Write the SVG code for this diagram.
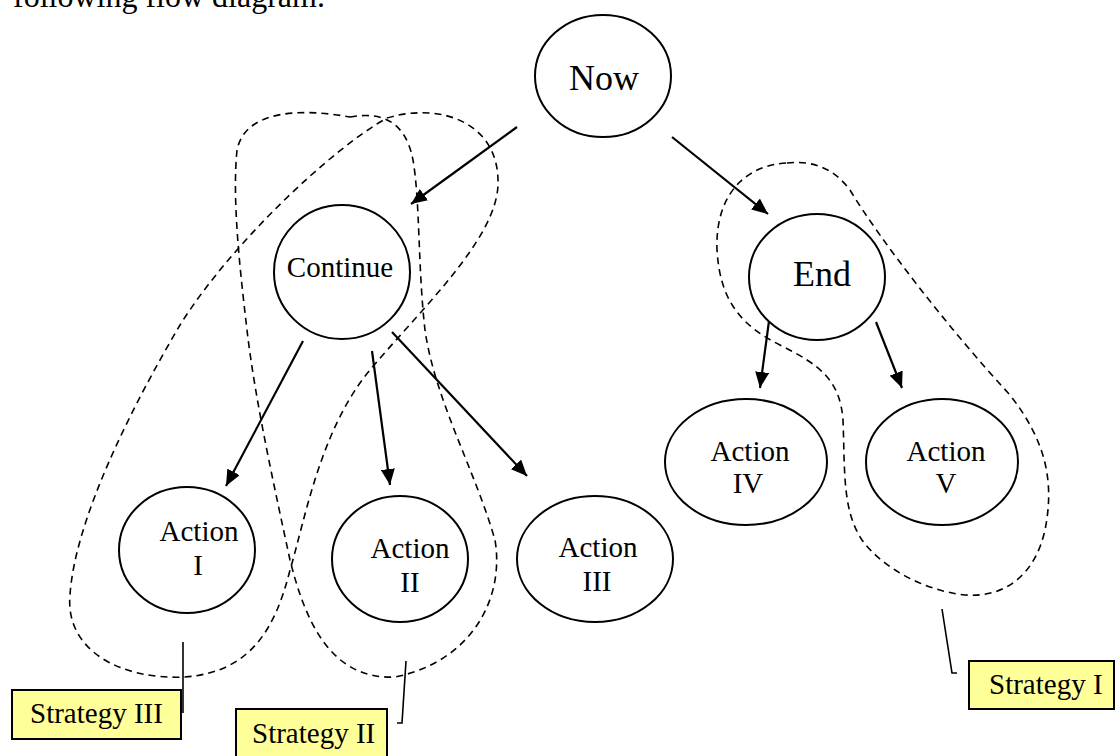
<svg xmlns="http://www.w3.org/2000/svg" width="1115" height="756" viewBox="0 0 1115 756">
<style>
text{font-family:"Liberation Serif","Times New Roman",serif;fill:#000}
.node{fill:#fff;stroke:#000;stroke-width:2}
.t{font-size:29px;text-anchor:middle}
.big{font-size:36px;text-anchor:middle}
.arrow{stroke:#000;stroke-width:2.2;fill:none;marker-end:url(#ah)}
.group{fill:none;stroke:#000;stroke-width:1.6;stroke-dasharray:7,5}
.lead{fill:none;stroke:#000;stroke-width:1.6}
.box{fill:#ffff99;stroke:#000;stroke-width:2}
.lbl{font-size:29px}
</style>
<defs>
<marker id="ah" markerUnits="userSpaceOnUse" markerWidth="16" markerHeight="14" refX="16" refY="7" orient="auto">
<path d="M0,0 L16,7 L0,14 z" fill="#000"/>
</marker>
</defs>
<rect width="1115" height="756" fill="#fff"/>
<text x="13" y="7" style="font-size:32px">following flow diagram.</text>

<g id="groups">
<path class="group" d="M387,118 C440,102 500,122 498,185 C496,240 420,310 370,370 C320,430 305,520 290,570 C275,630 250,672 185,677 C120,680 65,650 70,595 C75,520 130,410 180,325 C230,245 330,150 387,118 Z"/>
<path class="group" d="M350,117 C378,112 405,118 413,160 C420,200 418,270 425,330 C435,400 475,470 495,540 C505,600 470,662 395,677 C330,680 305,620 290,560 C275,490 255,400 247,330 C240,270 232,200 237,150 C245,110 300,108 350,117 Z"/>
<path class="group" d="M787,163 C815,160 835,170 850,190 C880,240 950,330 1010,395 C1045,440 1055,480 1045,530 C1035,575 1005,598 965,595 C920,590 880,565 862,540 C842,510 845,470 843,420 C840,380 820,365 780,345 C740,325 720,300 717,250 C715,195 745,165 787,163 Z"/>
</g>

<g id="connectors">
<line class="arrow" x1="517" y1="127" x2="411" y2="204"/>
<line class="arrow" x1="672" y1="137" x2="768" y2="214"/>
<line class="arrow" x1="303" y1="341" x2="226" y2="486"/>
<line class="arrow" x1="372" y1="351" x2="390" y2="485"/>
<line class="arrow" x1="392" y1="332" x2="527" y2="476"/>
<line class="arrow" x1="769" y1="321" x2="760" y2="388"/>
<line class="arrow" x1="876" y1="322" x2="902" y2="388"/>
<polyline class="lead" points="183,642 183,713"/>
<polyline class="lead" points="406,661 402,723 397,723"/>
<polyline class="lead" points="942,609 952,673 957,673"/>
</g>

<g id="now"><ellipse class="node" cx="603" cy="76" rx="68" ry="61"/><text class="big" x="604" y="90">Now</text></g>
<g id="continue"><ellipse class="node" cx="342" cy="272" rx="68" ry="67"/><text class="t" x="340" y="277">Continue</text></g>
<g id="end"><ellipse class="node" cx="817" cy="277" rx="68" ry="63"/><text class="big" x="822" y="286">End</text></g>
<g id="action1"><ellipse class="node" cx="187" cy="550" rx="68" ry="63"/><text class="t" x="199" y="541">Action</text><text class="t" x="198" y="575">I</text></g>
<g id="action2"><ellipse class="node" cx="400" cy="559" rx="68" ry="63"/><text class="t" x="410" y="558">Action</text><text class="t" x="410" y="592">II</text></g>
<g id="action3"><ellipse class="node" cx="595" cy="559" rx="78" ry="63"/><text class="t" x="598" y="557">Action</text><text class="t" x="597" y="591">III</text></g>
<g id="action4"><ellipse class="node" cx="746" cy="462" rx="81" ry="63"/><text class="t" x="750" y="461">Action</text><text class="t" x="748" y="493">IV</text></g>
<g id="action5"><ellipse class="node" cx="942" cy="462" rx="76" ry="63"/><text class="t" x="946" y="461">Action</text><text class="t" x="946" y="493">V</text></g>

<g id="strategy3"><rect class="box" x="12" y="690" width="169" height="49"/><text class="lbl" x="30" y="723">Strategy III</text></g>
<g id="strategy2"><rect class="box" x="236" y="709" width="151" height="52"/><text class="lbl" x="252" y="743">Strategy II</text></g>
<g id="strategy1"><rect class="box" x="969" y="661" width="145" height="48"/><text class="lbl" x="989" y="694">Strategy I</text></g>
</svg>
